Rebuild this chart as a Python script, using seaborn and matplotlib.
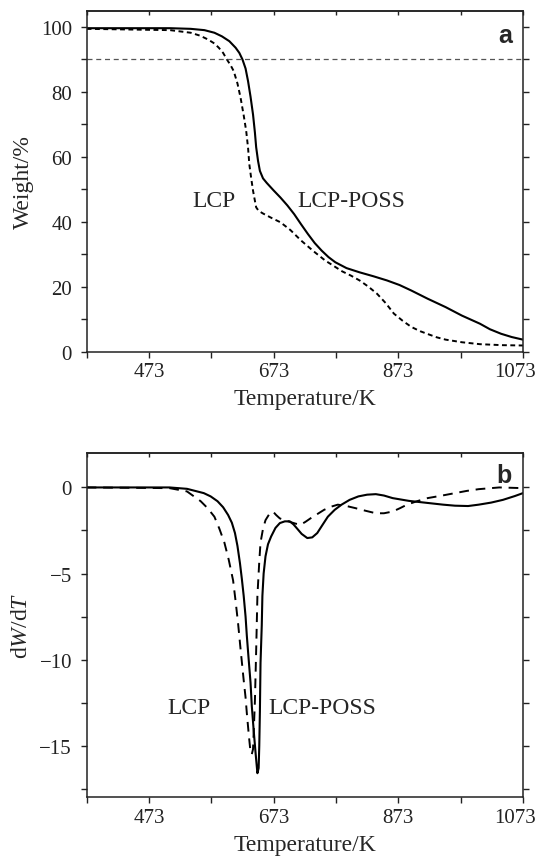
import numpy as np
import pandas as pd
import matplotlib
matplotlib.use("Agg")
import matplotlib.pyplot as plt
import matplotlib.transforms as mtransforms
import seaborn as sns

# ---------------- data ----------------
# Panel a: TGA weight curves
tga_poss_T = [373, 507, 540, 562, 578, 590, 602, 612, 618, 623, 628, 632, 636, 640, 643, 645, 648, 651, 656, 662,
              673, 684, 695, 706, 717, 728, 739, 750, 761, 772, 790, 811, 833, 855, 875, 894, 920, 949, 975, 1004, 1020, 1038, 1055, 1073]
tga_poss_W = [99.6, 99.6, 99.4, 99.0, 98.2, 97.1, 95.6, 93.6, 92.0, 90.0, 87.2, 83.3, 78.5, 73.0, 67.5, 63.0, 58.8, 55.7, 53.4, 52.0,
              49.7, 47.5, 45.1, 42.4, 39.3, 36.3, 33.5, 31.2, 29.2, 27.6, 25.8, 24.5, 23.3, 22.0, 20.6, 18.9, 16.4, 13.8, 11.2, 8.7, 7.0, 5.6, 4.6, 3.8]

tga_lcp_T = [373, 507, 540, 555, 568, 578, 585, 592, 598, 604, 609, 615, 620, 625, 629, 632, 634, 637, 640, 643, 645, 649, 656,
             670, 684, 700, 717, 737, 756, 770, 783, 797, 811, 825, 839, 853, 866, 880, 894, 908, 922, 935, 949, 975, 1004, 1040, 1073]
tga_lcp_W = [99.4, 99.0, 98.2, 97.3, 96.1, 94.9, 93.6, 92.0, 90.0, 88.2, 86.4, 82.6, 78.2, 72.8, 68.0, 62.8, 57.8, 53.5, 49.6, 46.5, 44.5, 43.4, 42.6,
             41.2, 39.9, 37.5, 34.3, 31.0, 28.1, 26.4, 24.8, 23.5, 22.0, 20.1, 17.9, 15.0, 11.8, 9.6, 7.7, 6.4, 5.4, 4.5, 3.8, 3.0, 2.4, 2.1, 2.0]

# Panel b: DTG curves
dtg_poss_T = [373, 506, 534, 561, 572, 583, 592, 600, 606, 611, 615, 619, 622, 625, 628, 630, 633, 636, 638, 641, 644, 647,
              649, 650, 651, 652, 654, 655, 657, 660, 664, 669, 676, 683, 691, 699, 705, 710, 718, 727, 735, 743, 751, 760, 771,
              782, 795, 809, 823, 837, 850, 864, 890, 920, 945, 964, 985, 1002, 1022, 1041, 1060, 1073]
dtg_poss_W = [0.0, 0.0, -0.08, -0.33, -0.52, -0.8, -1.15, -1.6, -2.05, -2.65, -3.4, -4.4, -5.3, -6.3, -7.5, -8.6, -10.0, -11.35, -12.7, -14.1, -15.4, -16.6,
              -16.3, -15.0, -13.0, -10.2, -8.0, -6.3, -5.0, -4.0, -3.3, -2.85, -2.35, -2.07, -1.97, -1.97, -2.15, -2.36, -2.7, -2.94, -2.9, -2.65, -2.2, -1.7, -1.3,
              -1.0, -0.72, -0.52, -0.42, -0.39, -0.47, -0.62, -0.78, -0.9, -1.0, -1.06, -1.08, -1.0, -0.88, -0.72, -0.5, -0.33]

dtg_lcp_T = [373, 506, 534, 556, 567, 578, 586, 594, 601, 608, 612, 616, 620, 625, 628, 630, 633, 636, 638, 640, 643, 645, 647,
             650, 652, 656, 660, 666, 672, 677, 683, 691, 699, 708, 716, 724, 732, 743, 754, 765, 776, 790, 804, 820, 837, 850, 864,
             876, 887, 903, 920, 942, 964, 983, 1002, 1035, 1073]
dtg_lcp_W = [0.0, -0.04, -0.23, -0.8, -1.2, -1.7, -2.4, -3.2, -4.2, -5.4, -6.6, -7.9, -9.4, -11.2, -12.2, -13.1, -14.3, -15.4, -15.5, -15.2, -12.4, -9.5, -6.3,
             -4.3, -3.2, -2.4, -1.9, -1.55, -1.4, -1.6, -1.8, -1.9, -2.0, -2.1, -2.17, -2.0, -1.8, -1.55, -1.3, -1.12, -1.0, -1.08, -1.2, -1.35, -1.5, -1.5, -1.4,
             -1.2, -1.0, -0.8, -0.62, -0.48, -0.33, -0.2, -0.1, 0.0, -0.04]

x_ticks = [473, 673, 873, 1073]
x_minor = [373, 573, 773, 973]
ya_ticks = [0, 20, 40, 60, 80, 100]
yb_ticks = [0, -5, -10, -15]
yb_labels = ["0", "\u22125", "\u221210", "\u221215"]
ref_weight = 90

# ---------------- style ----------------
sns.set_theme(style="ticks")
plt.rcParams["font.family"] = ["Liberation Serif", "DejaVu Serif"]
plt.rcParams["mathtext.fontset"] = "custom"
plt.rcParams["mathtext.rm"] = "Liberation Serif"
plt.rcParams["mathtext.it"] = "Liberation Serif:italic"
plt.rcParams["axes.edgecolor"] = "#222222"
plt.rcParams["axes.linewidth"] = 1.1
plt.rcParams["xtick.color"] = "#222222"
plt.rcParams["ytick.color"] = "#222222"
plt.rcParams["xtick.labelcolor"] = "#222222"
plt.rcParams["ytick.labelcolor"] = "#222222"

fig = plt.figure(figsize=(5.38, 8.62), dpi=100)
ax1 = fig.add_axes([0.161, 0.5905, 0.811, 0.396])
ax2 = fig.add_axes([0.161, 0.0739, 0.811, 0.3994])

dfa1 = pd.DataFrame({"T": tga_poss_T, "W": tga_poss_W})
dfa2 = pd.DataFrame({"T": tga_lcp_T, "W": tga_lcp_W})
dfb1 = pd.DataFrame({"T": dtg_poss_T, "W": dtg_poss_W})
dfb2 = pd.DataFrame({"T": dtg_lcp_T, "W": dtg_lcp_W})

sns.lineplot(data=dfa1, x="T", y="W", ax=ax1, color="black", lw=1.5, linestyle="-", sort=False)
sns.lineplot(data=dfa2, x="T", y="W", ax=ax1, color="black", lw=1.4, linestyle=(0, (2.5, 1.8)), sort=False)
ax1.axhline(ref_weight, color="#555555", lw=0.9, linestyle=(0, (4, 3)))

sns.lineplot(data=dfb1, x="T", y="W", ax=ax2, color="black", lw=1.5, linestyle="-", sort=False)
sns.lineplot(data=dfb2, x="T", y="W", ax=ax2, color="black", lw=1.4, linestyle=(0, (5, 3.5)), sort=False)

for ax in (ax1, ax2):
    ax.set_xlim(373, 1073)
    ax.set_xticks(x_ticks)
    ax.set_xticks(x_minor, minor=True)
    ax.tick_params(axis="both", which="both", direction="out", labelsize=15)
    ax.tick_params(axis="both", which="both", length=4.5, width=1)
    ax.tick_params(axis="x", which="both", pad=3)
    ax.tick_params(axis="y", which="both", pad=6, right=True, left=True)
    ax.set_xlabel("Temperature/K", fontsize=17, labelpad=5)
    sec = ax.secondary_xaxis("top")
    sec.set_xticks(x_ticks + x_minor)
    sec.tick_params(direction="in", length=3, width=1, labeltop=False)
    for s in ax.spines.values():
        s.set_visible(True)

ax1.set_ylim(0, 105)
ax1.set_yticks(ya_ticks)
ax1.set_yticks([10, 30, 50, 70, 90], minor=True)
ax1.set_ylabel("Weight/%", fontsize=17, labelpad=5)
ax1.text(0.975, 0.929, "a", transform=ax1.transAxes, fontsize=18, fontweight="bold",
         family="Liberation Sans", ha="right", va="center")

ax2.set_ylim(-18, 2)
ax2.set_yticks(yb_ticks)
ax2.set_yticklabels(yb_labels)
ax2.set_yticks([-2.5, -7.5, -12.5, -17.5], minor=True)
ax2.set_ylabel("d$W$/d$T$", fontsize=17, labelpad=5)
ax2.text(0.975, 0.935, "b", transform=ax2.transAxes, fontsize=18, fontweight="bold",
         family="Liberation Sans", ha="right", va="center")

# curve labels (positions in data coordinates)
ax1.text(577, 46.6, "LCP", fontsize=17, ha="center", va="center")
ax1.text(797, 46.6, "LCP-POSS", fontsize=17, ha="center", va="center")
ax2.text(538, -12.8, "LCP", fontsize=17, ha="center", va="center")
ax2.text(751, -12.8, "LCP-POSS", fontsize=17, ha="center", va="center")

# nudge the last x tick label ("1073") left so it stays inside the figure, as in the reference
fig.canvas.draw()
shift = mtransforms.ScaledTranslation(-8 / 100, 0, fig.dpi_scale_trans)
for ax in (ax1, ax2):
    lbl = ax.get_xticklabels()[-1]
    lbl.set_transform(lbl.get_transform() + shift)

fig.savefig("out.png", dpi=100)
